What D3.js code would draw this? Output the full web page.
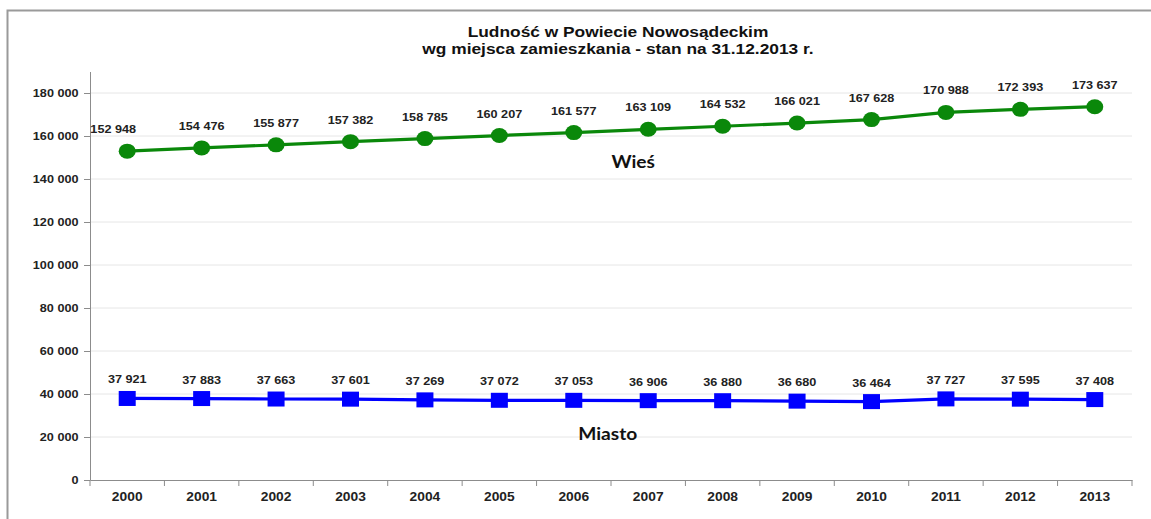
<!DOCTYPE html>
<html>
<head>
<meta charset="utf-8">
<title>Ludność w Powiecie Nowosądeckim</title>
<style>
  body { margin: 0; background: #fff; }
  svg { display: block; }
  .lbl { font-family: "Liberation Sans", Arial, sans-serif; font-weight: bold; font-size: 11px; fill: #222; }
  .axis text { font-family: "Liberation Sans", Arial, sans-serif; font-weight: bold; fill: #222; }
  .axis path, .axis line { stroke: #8c8c8c; }
  .name { font-family: Lato, "Open Sans", sans-serif; font-weight: bold; font-size: 17px; fill: #111; }
</style>
</head>
<body>
<div id="chart"></div>
<script src="https://cdnjs.cloudflare.com/ajax/libs/d3/7.8.5/d3.min.js"></script>
<script>
// chart data
const years = ["2000", "2001", "2002", "2003", "2004", "2005", "2006", "2007", "2008", "2009", "2010", "2011", "2012", "2013"];
const wies = [152948, 154476, 155877, 157382, 158785, 160207, 161577, 163109, 164532, 166021, 167628, 170988, 172393, 173637];
const miasto = [37921, 37883, 37663, 37601, 37269, 37072, 37053, 36906, 36880, 36680, 36464, 37727, 37595, 37408];
const yTicks = [0, 20000, 40000, 60000, 80000, 100000, 120000, 140000, 160000, 180000];
const titleLines = ["Ludność w Powiecie Nowosądeckim", "wg miejsca zamieszkania - stan na 31.12.2013 r."];

const W = 1151, H = 519;
const margin = {top: 71.5, left: 90, bottom: 39, right: 19};
const sx = 1.15; // text looks a bit wide in the original

const pl = d3.formatLocale({decimal: ",", thousands: " ", grouping: [3], currency: ["", ""]});
const fmt = pl.format(",");

const svg = d3.select("#chart").append("svg")
    .attr("width", W)
    .attr("height", H);

svg.append("rect").attr("width", W).attr("height", H).attr("fill", "#fff");

// frame around the chart
svg.append("path")
    .attr("d", "M7.5," + H + "V10.5H" + W)
    .attr("fill", "none")
    .attr("stroke", "#9a9a9a")
    .attr("stroke-width", 2);

const x = d3.scaleBand().domain(years).range([margin.left, W - margin.right]).padding(0);
const y = d3.scaleLinear().domain([0, 190000]).range([H - margin.bottom, margin.top]);
const cx = d => x(d) + x.bandwidth() / 2;

// title
svg.append("g").selectAll("text")
  .data(titleLines)
  .join("text")
    .attr("transform", (d, i) => "translate(618," + (37 + i * 16.5) + ") scale(1.12,1)")
    .attr("text-anchor", "middle")
    .attr("class", "lbl")
    .style("font-size", "15.5px")
    .style("fill", "#111")
    .text(d => d);

// gridlines
svg.append("g").selectAll("line")
  .data(yTicks.filter(d => d > 0))
  .join("line")
    .attr("x1", margin.left).attr("x2", W - margin.right)
    .attr("y1", d => y(d)).attr("y2", d => y(d))
    .attr("stroke", "#e6e6e6");

// y axis
const yAxis = svg.append("g")
    .attr("class", "axis")
    .attr("transform", "translate(" + margin.left + ",0)")
    .call(d3.axisLeft(y).tickValues(yTicks).tickFormat(fmt).tickSize(6).tickSizeOuter(0).tickPadding(4));
yAxis.selectAll("text").style("font-size", "11px").attr("transform", "scale(" + sx + ",1)");

// x axis: labels at centres, ticks at category edges
const xAxis = svg.append("g")
    .attr("class", "axis")
    .attr("transform", "translate(0," + y(0) + ")")
    .call(d3.axisBottom(x).tickSize(0).tickPadding(12));
xAxis.selectAll(".tick").attr("transform", d => "translate(" + cx(d) + ",0)");
xAxis.selectAll(".tick text").style("font-size", "12px").attr("transform", "scale(" + sx + ",1)");
xAxis.selectAll(".edge")
  .data(years.map(d => x(d)).concat([x.range()[1]]))
  .join("line")
    .attr("class", "edge")
    .attr("x1", d => d).attr("x2", d => d)
    .attr("y1", 0).attr("y2", 6)
    .attr("stroke", "#8c8c8c");

// series
const line = d3.line().x((d, i) => cx(years[i])).y(d => y(d));

svg.append("path").datum(wies)
    .attr("d", line)
    .attr("fill", "none")
    .attr("stroke", "#0a880a")
    .attr("stroke-width", 3.2);

svg.append("path").datum(miasto)
    .attr("d", line)
    .attr("fill", "none")
    .attr("stroke", "#0000ff")
    .attr("stroke-width", 3.2);

svg.append("g").selectAll("ellipse")
  .data(wies)
  .join("ellipse")
    .attr("cx", (d, i) => cx(years[i]))
    .attr("cy", d => y(d))
    .attr("rx", 8.5).attr("ry", 7.5)
    .attr("fill", "#0a880a");

svg.append("g").selectAll("rect")
  .data(miasto)
  .join("rect")
    .attr("x", (d, i) => cx(years[i]) - 8.5)
    .attr("y", d => y(d) - 7.5)
    .attr("width", 17).attr("height", 15)
    .attr("fill", "#0000ff");

// data labels
svg.append("g").selectAll("text")
  .data(wies)
  .join("text")
    .attr("class", "lbl")
    .attr("text-anchor", "middle")
    .attr("transform", (d, i) => "translate(" + (cx(years[i]) - (i === 0 ? 14 : 0)) + "," + (y(d) - 18) + ") scale(" + sx + ",1)")
    .text(d => fmt(d));

svg.append("g").selectAll("text")
  .data(miasto)
  .join("text")
    .attr("class", "lbl")
    .attr("text-anchor", "middle")
    .attr("transform", (d, i) => "translate(" + cx(years[i]) + "," + (y(d) - 15) + ") scale(" + sx + ",1)")
    .text(d => fmt(d));

// series names
svg.append("text")
    .attr("class", "name")
    .attr("text-anchor", "middle")
    .attr("transform", "translate(" + (cx("2007") - 15) + "," + y(145000) + ") scale(1.13,1)")
    .text("Wieś");

svg.append("text")
    .attr("class", "name")
    .attr("text-anchor", "middle")
    .attr("transform", "translate(" + (cx("2006") + 34) + "," + y(18700) + ") scale(1.13,1)")
    .text("Miasto");
</script>
</body>
</html>
